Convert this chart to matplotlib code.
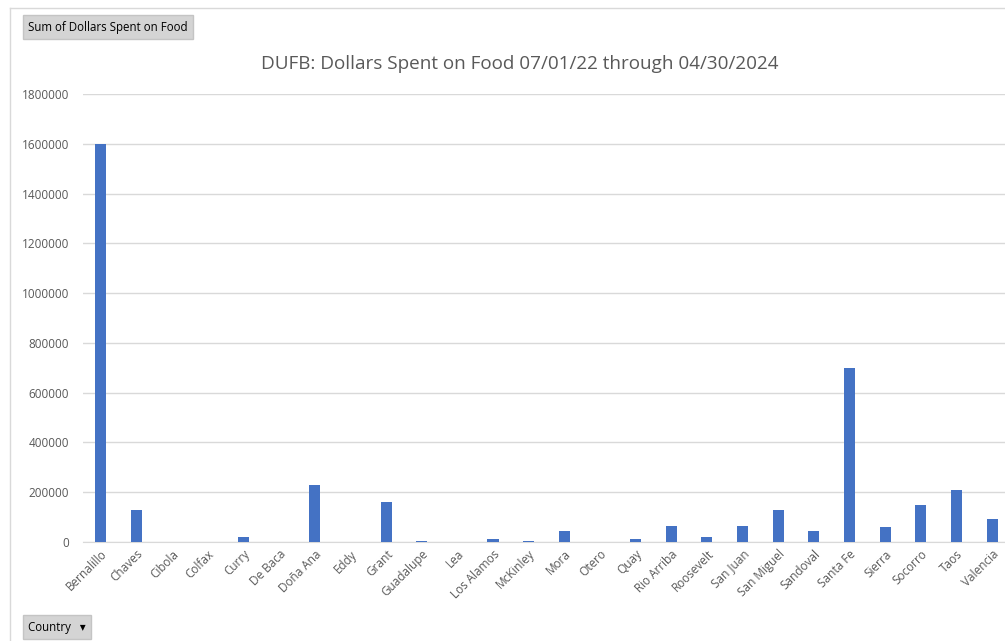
import numpy as np
import matplotlib.pyplot as plt

# county names and dollars spent
counties = ['Bernalillo', 'Chaves', 'Cibola', 'Colfax', 'Curry', 'De Baca', 'Doña Ana',
            'Eddy', 'Grant', 'Guadalupe', 'Lea', 'Los Alamos', 'McKinley', 'Mora',
            'Otero', 'Quay', 'Rio Arriba', 'Roosevelt', 'San Juan', 'San Miguel',
            'Sandoval', 'Santa Fe', 'Sierra', 'Socorro', 'Taos', 'Valencia']
dollars = [1600000, 130000, 0, 0, 22000, 0, 229000,
           0, 162000, 5000, 0, 13000, 5000, 46000,
           0, 14000, 66000, 22000, 66000, 128000,
           46000, 700000, 62000, 149000, 210000, 91000]
yticks = [0, 200000, 400000, 600000, 800000, 1000000, 1200000, 1400000, 1600000, 1800000]

plt.rcParams['font.family'] = ['Open Sans', 'DejaVu Sans']
grey = '#595959'

fig = plt.figure(figsize=(10.05, 6.41), dpi=100)
ax = fig.add_axes([83/1005, 99/641, 927/1005, 448/641])

x = np.arange(len(counties))
ax.bar(x, dollars, width=0.31, color='#4472C4', zorder=3)
ax.set_xlim(-0.5, len(counties) - 0.5)
ax.set_ylim(0, 1800000)
ax.set_yticks(yticks)
ax.set_yticklabels([str(v) for v in yticks], color=grey, fontsize=8.5)
ax.set_xticks(x)
ax.set_xticklabels(counties, rotation=45, ha='right', va='top', rotation_mode='anchor',
                   color=grey, fontsize=8.5)
ax.tick_params(axis='both', length=0)
ax.tick_params(axis='y', pad=10)
ax.tick_params(axis='x', pad=4)
ax.grid(axis='y', color='#d9d9d9', linewidth=1, zorder=0)
for s in ['top', 'right', 'left']:
    ax.spines[s].set_visible(False)
ax.spines['bottom'].set_color('#d9d9d9')

fig.text(520/1005, 1 - 64/641, 'DUFB: Dollars Spent on Food 07/01/22 through 04/30/2024',
         ha='center', va='center', fontsize=13.6, color=grey)

# outer chart frame lines (top and left)
fig.add_artist(plt.Line2D([10/1005, 1], [1 - 8/641, 1 - 8/641], color='#d9d9d9', lw=1))
fig.add_artist(plt.Line2D([10/1005, 10/1005], [0, 1 - 8/641], color='#d9d9d9', lw=1))

# pivot field buttons
fig.text(28/1005, 1 - 27/641, 'Sum of Dollars Spent on Food', ha='left', va='center',
         fontsize=8.3, color='black',
         bbox=dict(boxstyle='square,pad=0.45', fc='#d4d4d4', ec='#c4c4c4'))
fig.text(28/1005, 1 - 627/641, 'Country   \u25be', ha='left', va='center',
         fontsize=8.3, color='black',
         bbox=dict(boxstyle='square,pad=0.45', fc='#d4d4d4', ec='#c4c4c4'))

fig.savefig('out.png', dpi=100)
